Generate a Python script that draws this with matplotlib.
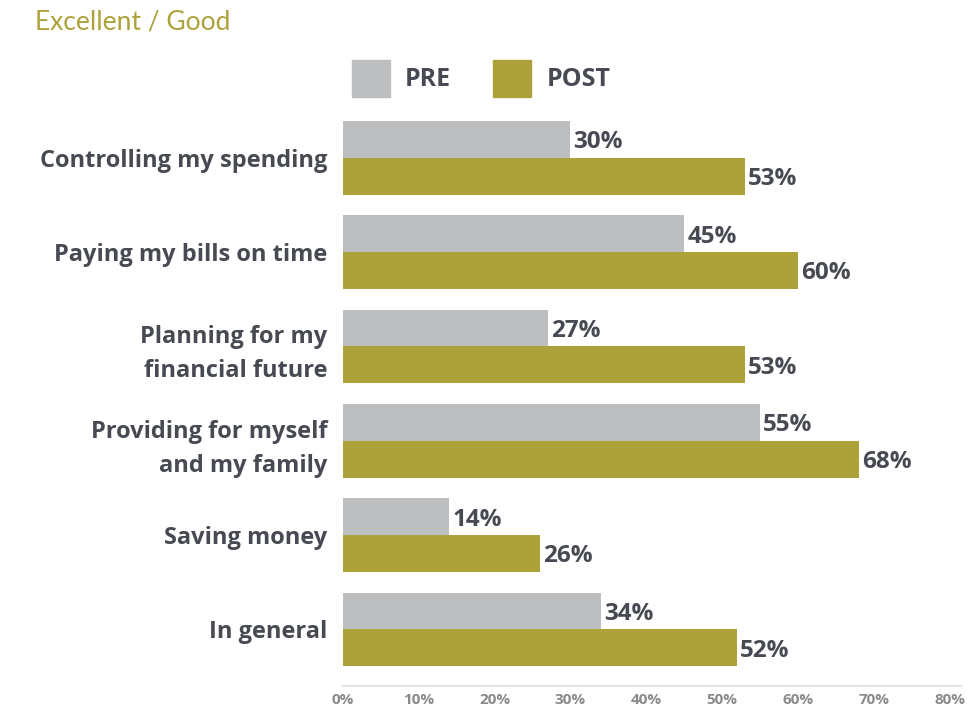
import matplotlib
matplotlib.use("Agg")
import matplotlib.pyplot as plt
from matplotlib.patches import Rectangle

plt.rcParams['font.family'] = ['Open Sans', 'DejaVu Sans']

categories = ['Controlling my spending', 'Paying my bills on time',
              'Planning for my\nfinancial future', 'Providing for myself\nand my family',
              'Saving money', 'In general']
pre = [30, 45, 27, 55, 14, 34]
post = [53, 60, 53, 68, 26, 52]
ticks = [0, 10, 20, 30, 40, 50, 60, 70, 80]

gray = '#bdbec0'
olive = '#ada23a'
dark = '#474a52'

fig = plt.figure(figsize=(9.67, 7.10), dpi=100)
# axes: left at 343px, bottom at 686px, top at 106px
ax = fig.add_axes([343/967, (710-686)/710, 618/967, (686-106)/710])

h = 0.39
y = list(range(len(categories)))
ax.barh([v - h/2 for v in y], pre, height=h, color=gray)
ax.barh([v + h/2 for v in y], post, height=h, color=olive)

for i in y:
    ax.text(pre[i] + 0.4, i - h/2 + 0.03, f'{pre[i]}%', va='center', ha='left',
            fontsize=17.5, fontweight='bold', color=dark)
    ax.text(post[i] + 0.4, i + h/2 + 0.03, f'{post[i]}%', va='center', ha='left',
            fontsize=17.5, fontweight='bold', color=dark)

ax.set_xlim(0, 81.5)
ax.set_ylim(5.6, -0.55)
ax.set_yticks(y)
ax.set_yticklabels(categories, fontsize=17, fontweight='bold', color=dark,
                   linespacing=1.55)
ax.set_xticks(ticks)
ax.set_xticklabels([f'{t}%' for t in ticks], fontsize=11, fontweight='bold', color='#8a8a8a')
ax.tick_params(axis='y', length=0, pad=11)
ax.tick_params(axis='x', length=0, pad=5)
for s in ['top', 'right', 'left']:
    ax.spines[s].set_visible(False)
ax.spines['bottom'].set_color('#e3e3e3')
ax.spines['bottom'].set_linewidth(1.5)

# title
fig.text(35/967, 1 - 22/710, 'Excellent / Good', fontsize=19, color=olive,
         va='center', ha='left', family=['Lato', 'DejaVu Sans'])

# legend
fig.add_artist(Rectangle((352/967, 1 - 97/710), 38/967, 37/710,
                         transform=fig.transFigure, color=gray))
fig.text(405/967, 1 - 79/710, 'PRE', fontsize=18, fontweight='bold', color=dark,
         va='center', ha='left')
fig.add_artist(Rectangle((493/967, 1 - 97/710), 38/967, 37/710,
                         transform=fig.transFigure, color=olive))
fig.text(547/967, 1 - 79/710, 'POST', fontsize=18, fontweight='bold', color=dark,
         va='center', ha='left')

fig.savefig('out.png', dpi=100)
